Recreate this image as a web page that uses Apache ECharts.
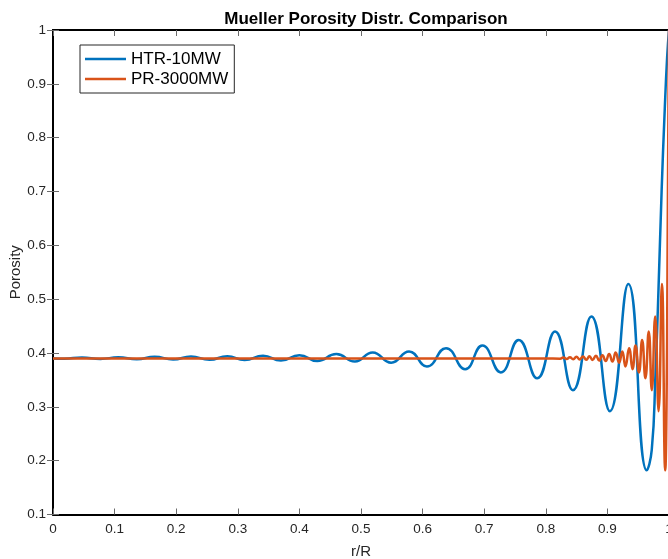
<!DOCTYPE html>
<html>
<head>
<meta charset="utf-8">
<script src="https://cdn.jsdelivr.net/npm/echarts@6/dist/echarts.min.js"></script>
<style>
  html, body { margin: 0; padding: 0; background: #ffffff; }
  #chart { width: 668px; height: 559px; }
</style>
</head>
<body>
<div id="chart"></div>
<script>
// Normalised radial position r/R and Mueller porosity for the HTR-10MW core
const htrR = [0, 0.018, 0.047, 0.077, 0.106, 0.136, 0.165, 0.195, 0.224, 0.254,
  0.283, 0.311, 0.341, 0.370, 0.400, 0.429, 0.460, 0.490, 0.519, 0.549,
  0.578, 0.607, 0.638, 0.669, 0.697, 0.727, 0.756, 0.786, 0.815, 0.844,
  0.874, 0.904, 0.934, 0.964, 0.972, 0.978, 0.983, 0.988, 0.993, 0.997, 1.0];
const htrPorosity = [0.390, 0.3895, 0.3915, 0.389, 0.392, 0.3885, 0.393, 0.388, 0.3935, 0.3875,
  0.394, 0.387, 0.395, 0.386, 0.396, 0.385, 0.398, 0.384, 0.401, 0.382,
  0.403, 0.375, 0.409, 0.370, 0.414, 0.364, 0.424, 0.353, 0.440, 0.331,
  0.468, 0.292, 0.528, 0.182, 0.22, 0.36, 0.52, 0.70, 0.85, 0.95, 1.0];

// Same quantities for the PR-3000MW core
const prR = [0, 0.80,
  0.8232, 0.8285, 0.8339, 0.8391, 0.8445, 0.8497, 0.8551, 0.8603, 0.8657, 0.8709,
  0.8758, 0.8814, 0.8866, 0.8920, 0.8972, 0.9028, 0.9082, 0.9134, 0.9190, 0.9242,
  0.9293, 0.9352, 0.9408, 0.9456, 0.9512, 0.9564, 0.9617, 0.9671, 0.9721, 0.9775,
  0.9831, 0.9885, 0.9939, 0.9960, 0.9975, 0.9988, 1.0];
const prPorosity = [0.390, 0.390,
  0.3895, 0.3915, 0.389, 0.392, 0.3885, 0.393, 0.388, 0.3935, 0.3875, 0.394,
  0.387, 0.395, 0.386, 0.396, 0.385, 0.398, 0.384, 0.401, 0.382, 0.403,
  0.375, 0.409, 0.370, 0.414, 0.364, 0.424, 0.353, 0.440, 0.331, 0.468,
  0.292, 0.528, 0.182, 0.30, 0.55, 0.80, 1.0];

const seriesNames = ['HTR-10MW', 'PR-3000MW'];
const titleText = 'Mueller Porosity Distr. Comparison';
const xName = 'r/R';
const yName = 'Porosity';

const FONT = '"Liberation Sans", Arial, Helvetica, sans-serif';
const zip = (xs, ys) => xs.map((x, i) => [x, ys[i]]);

const chart = echarts.init(document.getElementById('chart'), null, { renderer: 'canvas' });

const frameLine = { show: true, lineStyle: { color: '#000000', width: 2 } };
const innerTick = { show: true, inside: true, length: 6, lineStyle: { color: '#6a6a6a', width: 1 } };

chart.setOption({
  animation: false,
  backgroundColor: '#ffffff',
  title: {
    text: titleText,
    left: 361,
    top: 6,
    textAlign: 'center',
    textStyle: { fontFamily: FONT, fontSize: 17, fontWeight: 'bold', color: '#000000' }
  },
  grid: {
    left: 53, right: -1, top: 30, bottom: 44.5,
    containLabel: false, outerBoundsMode: 'none'
  },
  legend: {
    data: seriesNames,
    orient: 'vertical',
    left: 80,
    top: 45,
    icon: 'rect',
    itemWidth: 41,
    itemHeight: 2.5,
    itemGap: 0,
    padding: [4, 6, 4, 5],
    borderColor: '#262626',
    borderWidth: 1,
    backgroundColor: '#ffffff',
    textStyle: { fontFamily: FONT, fontSize: 17, lineHeight: 20, color: '#000000' }
  },
  xAxis: [{
    type: 'value', min: 0, max: 1, interval: 0.1, position: 'bottom',
    axisLine: frameLine, axisTick: innerTick, splitLine: { show: false },
    axisLabel: { fontFamily: FONT, fontSize: 13.5, color: '#262626', margin: 8 },
    name: xName, nameLocation: 'middle', nameGap: 30, nameMoveOverlap: false,
    nameTextStyle: { fontFamily: FONT, fontSize: 15, color: '#262626' }
  }, {
    type: 'value', min: 0, max: 1, interval: 0.1, position: 'top',
    axisLine: frameLine, axisTick: innerTick, splitLine: { show: false },
    axisLabel: { show: false }
  }],
  yAxis: [{
    type: 'value', min: 0.1, max: 1, interval: 0.1, position: 'left',
    axisLine: frameLine, axisTick: innerTick, splitLine: { show: false },
    axisLabel: { fontFamily: FONT, fontSize: 13.5, color: '#262626', margin: 7 },
    name: yName, nameLocation: 'middle', nameGap: 30, nameRotate: 90, nameMoveOverlap: false,
    nameTextStyle: { fontFamily: FONT, fontSize: 15, color: '#262626' }
  }, {
    type: 'value', min: 0.1, max: 1, interval: 0.1, position: 'right',
    axisLine: frameLine, axisTick: innerTick, splitLine: { show: false },
    axisLabel: { show: false }
  }],
  series: [{
    name: seriesNames[0], type: 'line', xAxisIndex: 0, yAxisIndex: 0,
    data: zip(htrR, htrPorosity),
    smooth: 0.5, showSymbol: false, symbol: 'none',
    lineStyle: { color: '#0072BD', width: 2.5 }, itemStyle: { color: '#0072BD' }
  }, {
    name: seriesNames[1], type: 'line', xAxisIndex: 0, yAxisIndex: 0,
    data: zip(prR, prPorosity),
    smooth: 0.5, showSymbol: false, symbol: 'none',
    lineStyle: { color: '#D95319', width: 2.5 }, itemStyle: { color: '#D95319' }
  }]
});
</script>
</body>
</html>
